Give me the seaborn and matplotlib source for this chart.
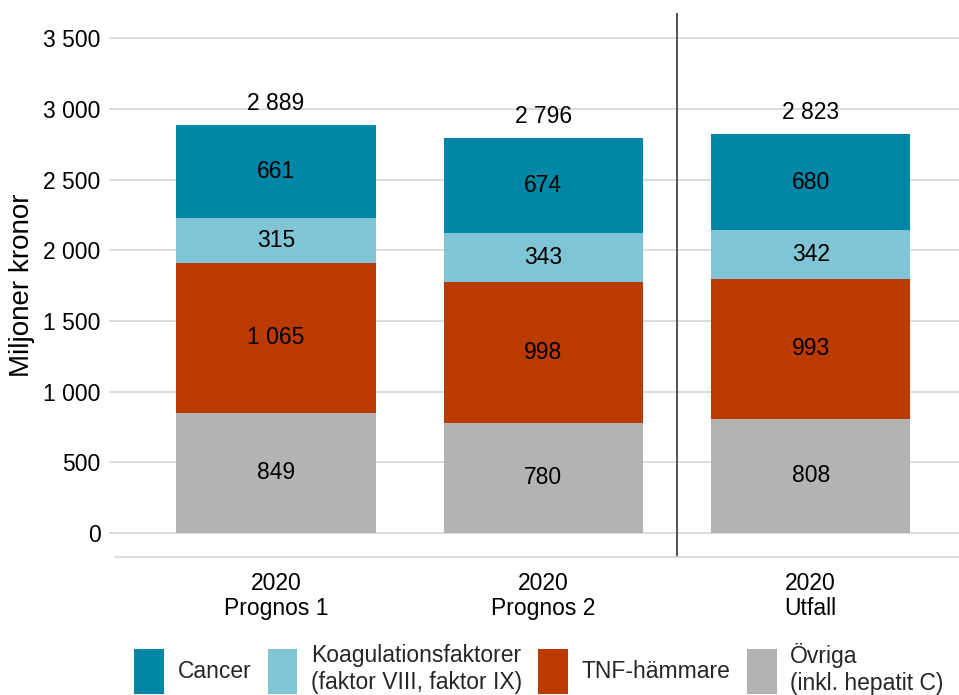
import matplotlib
matplotlib.use("Agg")
import matplotlib.pyplot as plt
import matplotlib.ticker as mticker
from matplotlib.patches import Patch
import seaborn as sns
import pandas as pd

# data (miljoner kronor)
categories = ["2020\nPrognos 1", "2020\nPrognos 2", "2020\nUtfall"]
ovriga = [849, 780, 808]
tnf = [1065, 998, 993]
koag = [315, 343, 342]
cancer = [661, 674, 680]
totals = [2889, 2796, 2823]

series_names = ["Övriga", "TNF-hämmare", "Koagulationsfaktorer", "Cancer"]
legend_labels = ["Cancer", "Koagulationsfaktorer\n(faktor VIII, faktor IX)",
                 "TNF-hämmare", "Övriga\n(inkl. hepatit C)"]
colors = {"Övriga": "#b3b3b3", "TNF-hämmare": "#bb3a00",
          "Koagulationsfaktorer": "#80c5d5", "Cancer": "#0087a8"}

sns.set_theme(style="white")
plt.rcParams["font.family"] = ["Liberation Sans", "DejaVu Sans"]


def fmt(v):
    return f"{v:,.0f}".replace(",", " ")


df = pd.DataFrame({"kategori": categories, "Övriga": ovriga,
                   "TNF-hämmare": tnf, "Koagulationsfaktorer": koag,
                   "Cancer": cancer})
# cumulative tops for stacking (drawn largest first so lower layers cover)
cum = df[series_names].cumsum(axis=1)

fig = plt.figure(figsize=(9.59, 6.95), dpi=100)
ax = fig.add_axes([109 / 959, 138 / 695, 1 - 109 / 959, (557 - 13) / 695])

for name in reversed(series_names):
    sns.barplot(x=df["kategori"], y=cum[name], color=colors[name],
                width=0.745, ax=ax, saturation=1, edgecolor="none")

# segment labels
for i in range(len(categories)):
    bottom = 0
    for name in series_names:
        val = df.loc[i, name]
        ax.text(i, bottom + val / 2, fmt(val), ha="center", va="center",
                fontsize=16.5, color="black")
        bottom += val
    ax.annotate(fmt(totals[i]), (i, cum.loc[i, "Cancer"]), xytext=(0, 7),
                textcoords="offset points", ha="center", va="bottom",
                fontsize=16.5, color="black")

ax.set_xlim(-0.625, 2.555)
ax.set_ylim(-170, 3680)
ax.yaxis.set_major_formatter(mticker.FuncFormatter(lambda v, p: fmt(v)))
ax.set_yticks(range(0, 3501, 500))
ax.grid(axis="y", color="#d9d9d9", linewidth=1.3)
ax.set_axisbelow(True)

for s in ["top", "right", "left"]:
    ax.spines[s].set_visible(False)
ax.spines["bottom"].set_color("#d9d9d9")
ax.spines["bottom"].set_linewidth(1.3)
ax.spines["bottom"].set_bounds(-0.603, 2.555)

ax.axvline(1.5, color="#333333", linewidth=1.2)

ax.tick_params(axis="y", length=0, pad=6, labelsize=16.5, labelcolor="black")
ax.tick_params(axis="x", length=5, width=1.2, color="#d9d9d9", pad=6,
               labelsize=16.5, labelcolor="black")
for lbl in ax.get_xticklabels():
    lbl.set_linespacing(1.1)
ax.set_xlabel("")
ax.set_ylabel("Miljoner kronor", fontsize=20, color="black", labelpad=6)

handles = [Patch(facecolor=colors[n], edgecolor="none")
           for n in ["Cancer", "Koagulationsfaktorer", "TNF-hämmare", "Övriga"]]
fig.legend(handles, legend_labels, loc="center", bbox_to_anchor=(0.562, 0.037),
           ncol=4, frameon=False, fontsize=16.5, handlelength=1.3,
           handleheight=2.6, handletextpad=0.6, columnspacing=0.7)

fig.savefig("out.png", dpi=100)
